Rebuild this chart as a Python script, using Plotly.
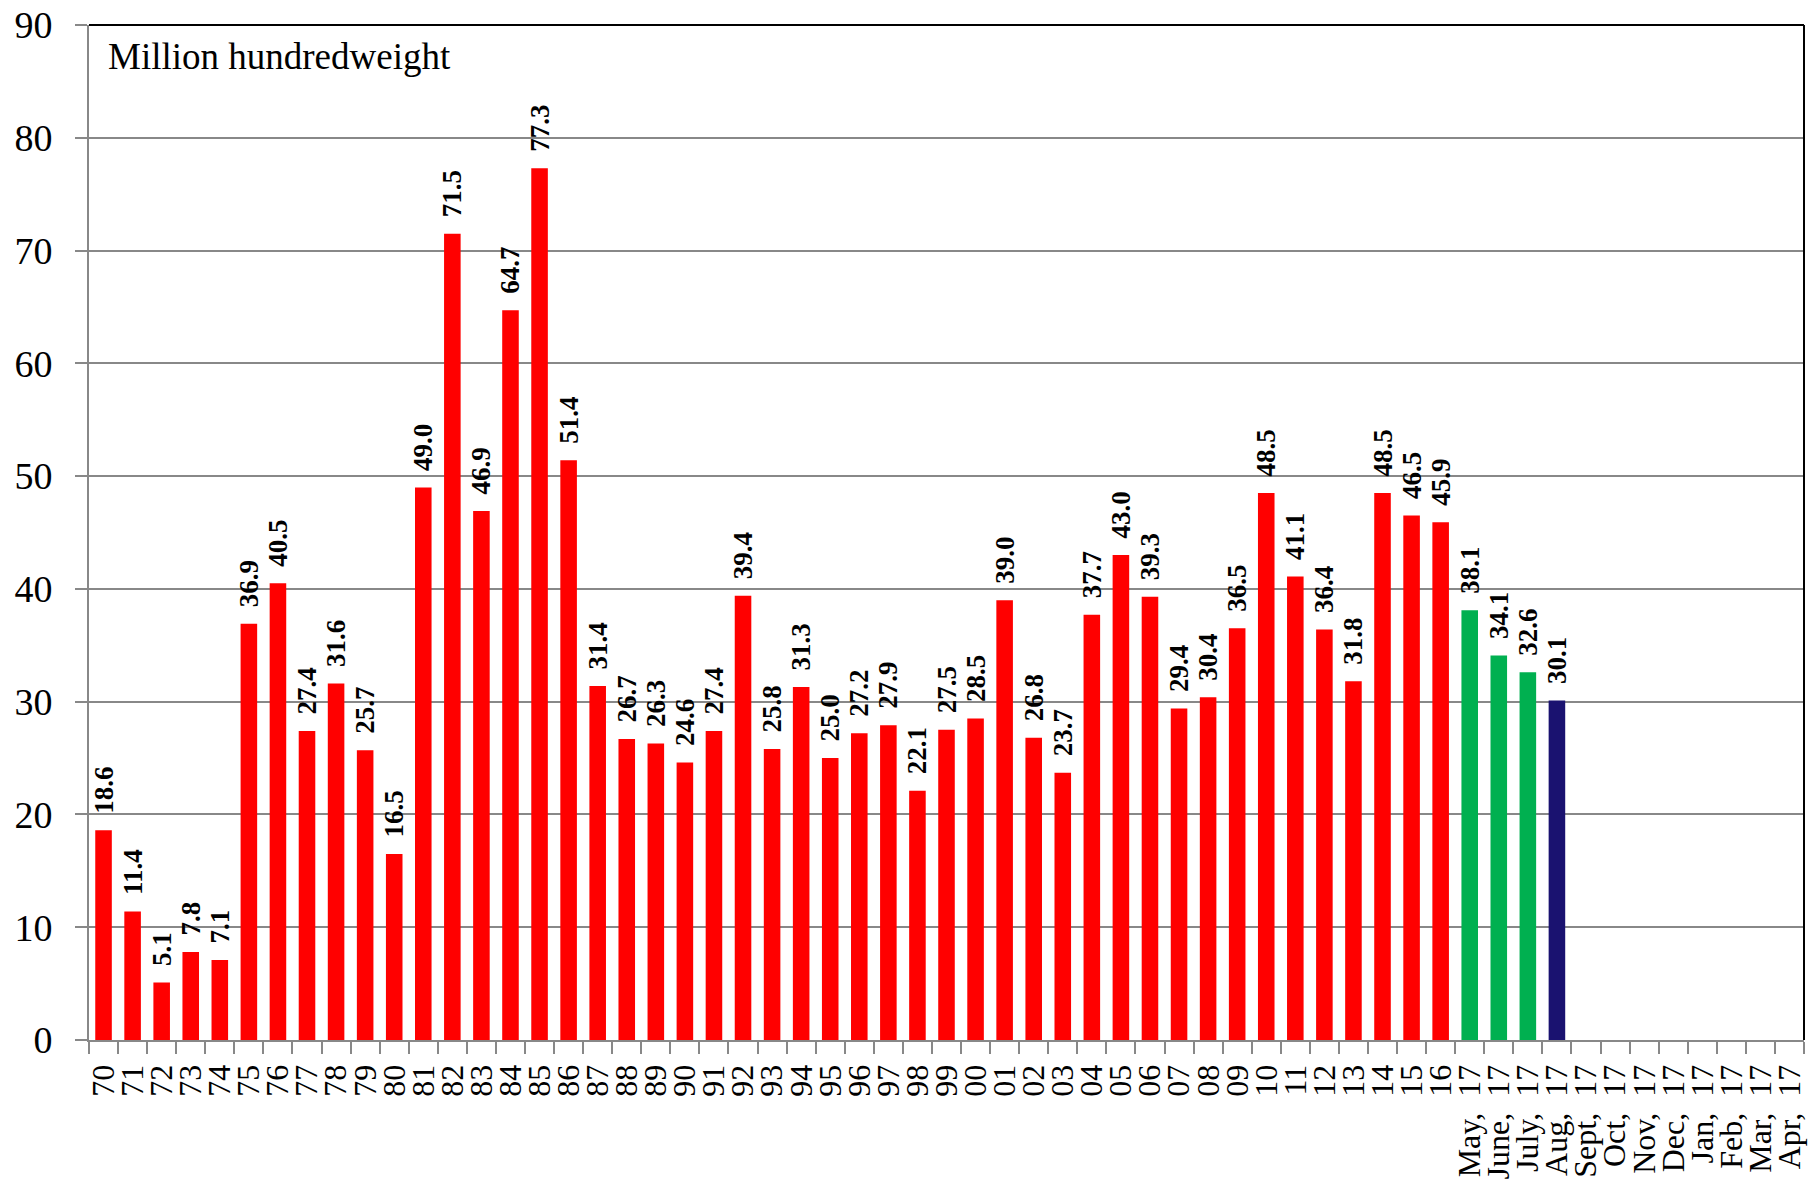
import plotly.graph_objects as go

years = ["70", "71", "72", "73", "74", "75", "76", "77", "78", "79",
         "80", "81", "82", "83", "84", "85", "86", "87", "88", "89",
         "90", "91", "92", "93", "94", "95", "96", "97", "98", "99",
         "00", "01", "02", "03", "04", "05", "06", "07", "08", "09",
         "10", "11", "12", "13", "14", "15", "16"]
year_values = [18.6, 11.4, 5.1, 7.8, 7.1, 36.9, 40.5, 27.4, 31.6, 25.7,
               16.5, 49.0, 71.5, 46.9, 64.7, 77.3, 51.4, 31.4, 26.7, 26.3,
               24.6, 27.4, 39.4, 25.8, 31.3, 25.0, 27.2, 27.9, 22.1, 27.5,
               28.5, 39.0, 26.8, 23.7, 37.7, 43.0, 39.3, 29.4, 30.4, 36.5,
               48.5, 41.1, 36.4, 31.8, 48.5, 46.5, 45.9]
months = ["May,", "June,", "July,", "Aug,", "Sept,", "Oct,",
          "Nov,", "Dec,", "Jan,", "Feb,", "Mar,", "Apr,"]
month_year = "17"
month_values = [38.1, 34.1, 32.6, 30.1, None, None, None, None, None, None, None, None]

RED = "#FF0000"
GREEN = "#00B050"
NAVY = "#1A1270"

month_labels = [m + "\u00a0\u00a0" + month_year for m in months]
categories = years + month_labels
values = year_values + month_values
colors = [RED] * len(years) + [GREEN, GREEN, GREEN, NAVY] + [RED] * 8
texts = [("\u00a0\u00a0%.1f" % v) if v is not None else "" for v in values]

FONT = "Liberation Serif, Times New Roman, serif"

fig = go.Figure(go.Bar(
    x=categories, y=values,
    marker=dict(color=colors, line=dict(width=0)),
    text=texts, textposition="outside", textangle=-90,
    textfont=dict(family=FONT, size=27, color="black", weight="bold"),
    constraintext="none", cliponaxis=False,
    hoverinfo="x+y",
))

fig.update_layout(
    width=1820, height=1193,
    margin=dict(l=89, r=16, t=25, b=153, autoexpand=False),
    paper_bgcolor="white", plot_bgcolor="white",
    bargap=0.43,
    showlegend=False,
    font=dict(family=FONT, color="black"),
    xaxis=dict(type="category", categoryorder="array", categoryarray=categories,
               tickmode="array", tickvals=categories, ticktext=categories,
               tickangle=-90, tickson="boundaries", ticks="outside", ticklen=12,
               tickcolor="#888888", tickwidth=2, automargin=False,
               ticklabelstandoff=10, ticklabeloverflow="allow",
               showline=True, linecolor="#888888", linewidth=2,
               showgrid=False, tickfont=dict(family=FONT, size=32, color="black")),
    yaxis=dict(range=[0, 90], dtick=10, ticks="outside", ticklen=12,
               tickcolor="#888888", tickwidth=2, automargin=False,
               ticklabelstandoff=15, ticklabeloverflow="allow",
               showline=True, linecolor="#888888", linewidth=2,
               showgrid=True, gridcolor="#888888", gridwidth=2,
               zeroline=False,
               tickfont=dict(family=FONT, size=38, color="black")),
    shapes=[dict(type="line", xref="paper", yref="paper", x0=0, x1=1, y0=1, y1=1,
                 line=dict(color="black", width=2)),
            dict(type="line", xref="paper", yref="paper", x0=1, x1=1, y0=0, y1=1,
                 line=dict(color="black", width=2))],
    annotations=[dict(text="Million hundredweight", xref="paper", yref="paper",
                      x=0.010, y=0.991, xanchor="left", yanchor="top", showarrow=False,
                      font=dict(family=FONT, size=37, color="black"))],
)

fig.write_html("out.html",
               config={"displayModeBar": False},
               post_script="document.body.style.margin='0';document.body.style.overflow='hidden';")
